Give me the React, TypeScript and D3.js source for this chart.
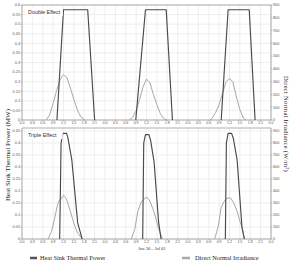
import React from "react";
import * as d3 from "d3";

// hours (0-24 within a day) and values, one array per day
const dayLabels = ["0.0", "0.3", "0.6", "0.9", "1.2", "1.5", "1.8", "2.1"];
const xTickHours = d3.range(0, 73, 3);

// Double effect – heat sink thermal power (MW)
const dblPowerD1: [number, number][] = [[10.1, 0], [12.0, 0.575], [19.0, 0.575], [21.0, 0]];
const dblPowerD2: [number, number][] = [[8.9, 0], [11.7, 0.575], [17.7, 0.575], [19.5, 0]];
const dblPowerD3: [number, number][] = [[9.6, 0], [11.6, 0.575], [17.7, 0.575], [19.4, 0]];
// Double effect – DNI (W/m2)
const dblDniD1: [number, number][] = [[7, 0], [8, 40], [9, 130], [10, 230], [11, 315], [12, 355], [13, 330], [14, 250], [15, 160], [16, 80], [17, 25], [18.2, 0]];
const dblDniD2: [number, number][] = [[7, 0], [8, 20], [9, 73], [10, 160], [11, 260], [12, 320], [13, 290], [14, 200], [15, 120], [16, 50], [17, 10], [18, 0]];
const dblDniD3: [number, number][] = [[6.3, 0], [7, 15], [8, 60], [9, 120], [10, 210], [11, 300], [12, 325], [13, 295], [14, 180], [15, 80], [16, 15], [16.8, 0]];
// Triple effect – heat sink thermal power (MW)
const triPowerD1: [number, number][] = [[10.9, 0], [11.3, 0.4], [11.8, 0.44], [12.9, 0.44], [13.3, 0.42], [14.4, 0.33], [16.1, 0.067], [17.4, 0]];
const triPowerD2: [number, number][] = [[10.9, 0], [11.2, 0.4], [11.7, 0.435], [12.7, 0.435], [13.2, 0.41], [14.2, 0.32], [15.5, 0.07], [16.2, 0]];
const triPowerD3: [number, number][] = [[10.8, 0], [11.1, 0.4], [11.6, 0.44], [12.6, 0.44], [13.1, 0.42], [14.2, 0.33], [15.6, 0.05], [16.3, 0]];
// Triple effect – DNI (W/m2)
const triDniD1: [number, number][] = [[7.5, 0], [8.5, 60], [9.5, 180], [10.3, 290], [10.8, 322], [11.4, 335], [12, 364], [12.5, 352], [13, 320], [14, 230], [15, 130], [16, 55], [17, 15], [17.6, 0]];
const triDniD2: [number, number][] = [[7.6, 0], [8.6, 80], [9.5, 230], [10.5, 310], [11.2, 330], [12.1, 350], [13, 315], [14, 240], [15, 140], [15.8, 60], [16.6, 0]];
const triDniD3: [number, number][] = [[7.7, 0], [8.7, 99], [9.6, 266], [10.4, 310], [11, 336], [11.6, 340], [12.2, 345], [13.1, 308], [14.1, 239], [15, 150], [15.6, 99], [16.3, 0]];

const topLeftTicks = d3.range(0, 0.601, 0.05);
const botLeftTicks = d3.range(0, 0.451, 0.05);
const rightTicks = d3.range(0, 901, 100);

function shiftDays(days: [number, number][][]): [number, number][][] {
  return days.map((d, i) => d.map(([h, v]) => [h + 24 * i, v] as [number, number]));
}

const X0 = 22, X1 = 271;
const x = d3.scaleLinear().domain([0, 72]).range([X0, X1]);
const tickFont = "'Liberation Sans', Arial, sans-serif";
const serif = "'Liberation Serif', 'Times New Roman', serif";
const fmtLeft = (v: number) => String(+v.toFixed(2));

function Panel({ top, bottom, leftMax, leftTicks, rightMax, power, dni, label }: any) {
  const yL = d3.scaleLinear().domain([0, leftMax]).range([bottom, top]);
  const yR = d3.scaleLinear().domain([0, rightMax]).range([bottom, top]);
  const lineL = d3.line<[number, number]>().x(d => x(d[0])).y(d => yL(d[1]));
  const lineR = d3.line<[number, number]>().x(d => x(d[0])).y(d => yR(d[1]));
  return (
    <g>
      {leftTicks.map((t: number) => (
        <line key={"h" + t} x1={X0} x2={X1} y1={yL(t)} y2={yL(t)} stroke="#e4e4e4" strokeWidth={0.6} />
      ))}
      {xTickHours.map(h => (
        <line key={"v" + h} x1={x(h)} x2={x(h)} y1={top} y2={bottom} stroke="#e4e4e4" strokeWidth={0.6} />
      ))}
      <line x1={X0} x2={X1} y1={top} y2={top} stroke="#9a9a9a" strokeWidth={0.8} />
      <line x1={X0} x2={X0} y1={top} y2={bottom} stroke="#8a8a8a" strokeWidth={0.7} />
      <line x1={X1} x2={X1} y1={top} y2={bottom} stroke="#8a8a8a" strokeWidth={0.7} />
      <line x1={X0} x2={X1} y1={bottom} y2={bottom} stroke="#8a8a8a" strokeWidth={0.7} />
      {leftTicks.map((t: number) => (
        <g key={"lt" + t}>
          <line x1={X0 - 1.5} x2={X0} y1={yL(t)} y2={yL(t)} stroke="#888" strokeWidth={0.5} />
          <text x={X0 - 2} y={yL(t) + 1.3} fontSize={3.8} textAnchor="end" fill="#555" fontFamily={tickFont}>{fmtLeft(t)}</text>
        </g>
      ))}
      {rightTicks.map((t: number) => (
        <g key={"rt" + t}>
          <line x1={X1} x2={X1 + 1.5} y1={yR(t)} y2={yR(t)} stroke="#888" strokeWidth={0.5} />
          <text x={X1 + 2} y={yR(t) + 1.3} fontSize={3.8} textAnchor="start" fill="#555" fontFamily={tickFont}>{t}</text>
        </g>
      ))}
      {xTickHours.map((h, i) => (
        <g key={"xt" + h}>
          <line x1={x(h)} x2={x(h)} y1={bottom} y2={bottom + 1.2} stroke="#888" strokeWidth={0.5} />
          <text x={x(h)} y={bottom + 4.3} fontSize={3.6} textAnchor="middle" fill="#555" fontFamily={tickFont}>{dayLabels[i % 8]}</text>
        </g>
      ))}
      {dni.map((d: [number, number][], i: number) => (
        <path key={"d" + i} d={lineR(d) || ""} fill="none" stroke="#a8a8a8" strokeWidth={1} />
      ))}
      {power.map((d: [number, number][], i: number) => (
        <path key={"p" + i} d={lineL(d) || ""} fill="none" stroke="#4a4a4a" strokeWidth={1.15} strokeLinejoin="round" />
      ))}
      <rect x={27} y={top + 3} width={label.length * 2.75} height={8} fill="#fff" />
      <text x={28} y={top + 9.3} fontSize={5.4} fill="#333" fontFamily={tickFont}>{label}</text>
    </g>
  );
}

export default function App() {
  return (
    <svg width={292} height={265} style={{ position: "absolute", left: 0, top: 0, background: "#fff" }}>
      <rect width={292} height={265} fill="#fff" />
      <Panel top={5} bottom={120} leftMax={0.6} leftTicks={topLeftTicks} rightMax={900}
        power={shiftDays([dblPowerD1, dblPowerD2, dblPowerD3])}
        dni={shiftDays([dblDniD1, dblDniD2, dblDniD3])} label="Double Effect" />
      <Panel top={128} bottom={239} leftMax={0.4625} leftTicks={botLeftTicks} rightMax={925}
        power={shiftDays([triPowerD1, triPowerD2, triPowerD3])}
        dni={shiftDays([triDniD1, triDniD2, triDniD3])} label="Triple Effect" />
      <text transform="translate(10,155) rotate(-90)" textAnchor="middle" fontSize={7} fill="#222" fontFamily={serif}>
        Heat Sink Thermal Power (MW)
      </text>
      <text transform="translate(284,124) rotate(90)" textAnchor="middle" fontSize={6.5} fill="#222" fontFamily={serif} letterSpacing={0.3}>
        Direct Normal Irradiance (W/m²)
      </text>
      <text x={152} y={249.5} fontSize={4.5} textAnchor="middle" fill="#333" fontFamily={serif}>Jun 30 – Jul 02</text>
      <line x1={30} x2={37} y1={258} y2={258} stroke="#555" strokeWidth={2.5} />
      <text x={40} y={260} fontSize={6.3} fill="#222" fontFamily={serif}>Heat Sink Thermal Power</text>
      <line x1={182} x2={190} y1={258} y2={258} stroke="#aaa" strokeWidth={2.5} />
      <text x={195} y={260} fontSize={6.3} fill="#222" fontFamily={serif}>Direct Normal Irradiance</text>
    </svg>
  );
}
